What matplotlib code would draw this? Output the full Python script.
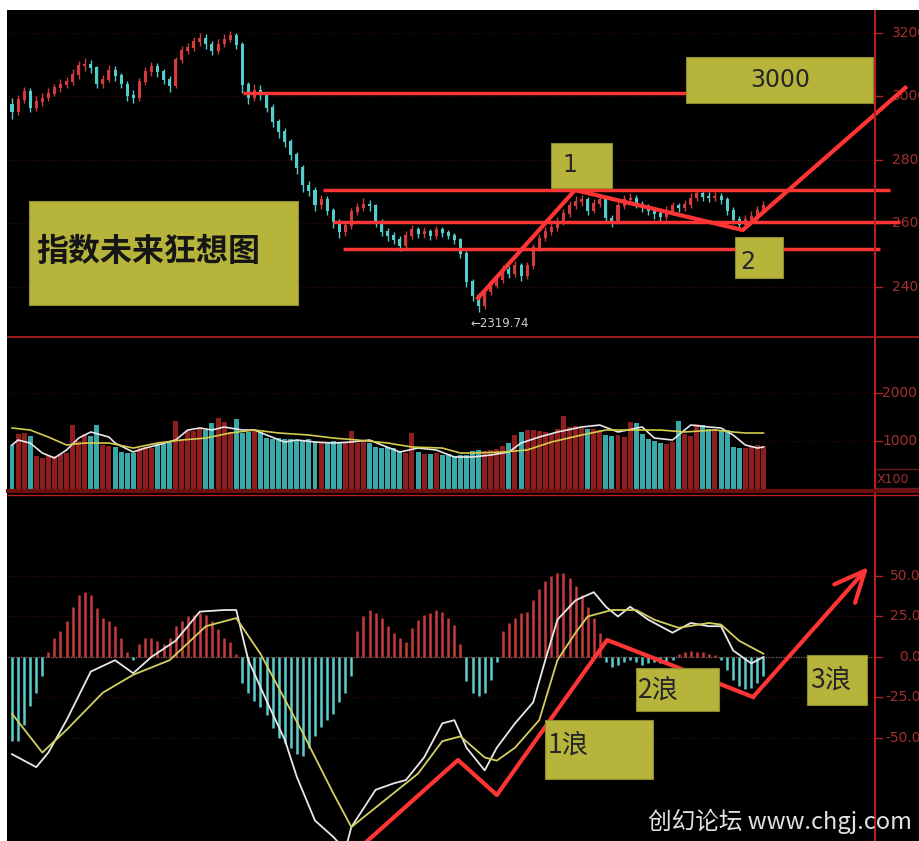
import matplotlib
matplotlib.use('Agg')
import matplotlib.pyplot as plt
import matplotlib.transforms as mtransforms
from matplotlib.patches import Rectangle
from matplotlib.lines import Line2D
import numpy as np

# ---- daily candles ----
opens = [2975, 2951, 2989, 3014, 2964, 2983, 2995, 3008, 3027, 3036,
         3046, 3068, 3096, 3102, 3090, 3039, 3052, 3083, 3065, 3039,
         3002, 2995, 3046, 3077, 3093, 3077, 3052, 3033, 3115, 3146,
         3153, 3172, 3184, 3165, 3146, 3165, 3178, 3191, 3162, 3036,
         2995, 3020, 3005, 2964, 2920, 2888, 2857, 2816, 2775, 2721,
         2705, 2658, 2674, 2642, 2605, 2573, 2592, 2636, 2649, 2661,
         2655, 2605, 2573, 2561, 2548, 2529, 2561, 2580, 2567, 2573,
         2561, 2580, 2570, 2561, 2548, 2504, 2416, 2372, 2340, 2384,
         2403, 2422, 2454, 2441, 2466, 2435, 2466, 2523, 2554, 2573,
         2586, 2605, 2630, 2655, 2668, 2674, 2642, 2664, 2674, 2617,
         2605, 2655, 2674, 2680, 2661, 2649, 2642, 2630, 2623, 2642,
         2655, 2649, 2661, 2680, 2693, 2686, 2680, 2686, 2674, 2642,
         2611, 2598, 2611, 2623, 2642]
closes = [2951, 2989, 3014, 2964, 2983, 2995, 3008, 3027, 3036, 3046,
          3068, 3096, 3102, 3090, 3039, 3052, 3083, 3065, 3039, 3002,
          2995, 3046, 3077, 3093, 3077, 3052, 3033, 3115, 3146, 3153,
          3172, 3184, 3165, 3146, 3165, 3178, 3191, 3162, 3036, 2995,
          3020, 3005, 2964, 2920, 2888, 2857, 2816, 2775, 2721, 2705,
          2658, 2674, 2642, 2605, 2573, 2592, 2636, 2649, 2661, 2655,
          2605, 2573, 2561, 2548, 2529, 2561, 2580, 2567, 2573, 2561,
          2580, 2570, 2561, 2548, 2504, 2416, 2372, 2340, 2384, 2403,
          2422, 2454, 2441, 2466, 2435, 2466, 2523, 2554, 2573, 2586,
          2605, 2630, 2655, 2668, 2674, 2642, 2664, 2674, 2617, 2605,
          2655, 2674, 2680, 2661, 2649, 2642, 2630, 2623, 2642, 2655,
          2649, 2661, 2680, 2693, 2686, 2680, 2686, 2674, 2642, 2611,
          2598, 2611, 2623, 2642, 2655]
highs = [2995, 3005, 3030, 3025, 3000, 3010, 3025, 3040, 3055, 3062,
         3085, 3110, 3120, 3115, 3095, 3068, 3098, 3095, 3075, 3050,
         3020, 3058, 3092, 3108, 3105, 3085, 3065, 3125, 3160, 3168,
         3188, 3200, 3195, 3175, 3180, 3195, 3205, 3200, 3170, 3045,
         3040, 3035, 3012, 2975, 2930, 2900, 2865, 2825, 2785, 2735,
         2715, 2690, 2685, 2650, 2615, 2605, 2650, 2665, 2680, 2675,
         2662, 2615, 2585, 2572, 2560, 2575, 2595, 2590, 2588, 2582,
         2592, 2590, 2580, 2570, 2555, 2512, 2425, 2380, 2395, 2418,
         2438, 2468, 2465, 2480, 2475, 2478, 2535, 2568, 2588, 2600,
         2620, 2645, 2670, 2685, 2690, 2682, 2678, 2690, 2682, 2628,
         2668, 2688, 2695, 2690, 2672, 2660, 2652, 2640, 2655, 2668,
         2665, 2675, 2695, 2708, 2702, 2698, 2700, 2695, 2682, 2652,
         2622, 2625, 2638, 2655, 2670]
lows = [2930, 2940, 2980, 2950, 2955, 2970, 2985, 3000, 3015, 3025,
        3035, 3055, 3080, 3075, 3025, 3028, 3045, 3050, 3025, 2985,
        2978, 2985, 3035, 3065, 3060, 3040, 3015, 3025, 3105, 3135,
        3142, 3160, 3150, 3130, 3135, 3155, 3170, 3148, 3010, 2975,
        2985, 2990, 2950, 2905, 2870, 2840, 2800, 2755, 2700, 2685,
        2640, 2645, 2625, 2585, 2555, 2560, 2582, 2625, 2640, 2640,
        2590, 2560, 2545, 2535, 2512, 2520, 2550, 2555, 2555, 2548,
        2552, 2558, 2550, 2535, 2490, 2400, 2355, 2319.74, 2330, 2375,
        2395, 2412, 2428, 2432, 2420, 2425, 2455, 2512, 2545, 2562,
        2575, 2595, 2620, 2645, 2655, 2628, 2632, 2652, 2600, 2590,
        2598, 2645, 2662, 2648, 2635, 2628, 2615, 2608, 2612, 2632,
        2636, 2640, 2650, 2670, 2672, 2668, 2670, 2660, 2628, 2598,
        2582, 2588, 2600, 2612, 2632]

# ---- volume (x100) ----
volumes = [920, 1150, 1170, 1100, 680, 650, 700, 690, 720, 760,
           1330, 1000, 1150, 1100, 1340, 920, 900, 880, 780, 750,
           760, 860, 880, 850, 930, 940, 1000, 1420, 1050, 1230,
           1200, 1250, 1220, 1380, 1480, 1400, 1180, 1460, 1170, 1190,
           1210, 1180, 1060, 1050, 1070, 1040, 1050, 1030, 1020, 1040,
           980, 970, 960, 990, 970, 980, 1210, 960, 980, 950,
           880, 860, 870, 850, 770, 760, 1170, 780, 740, 720,
           760, 700, 730, 680, 700, 710, 790, 820, 800, 810,
           830, 900, 950, 1120, 1180, 1220, 1230, 1210, 1180, 1150,
           1250, 1520, 1300, 1310, 1280, 1260, 1240, 1220, 1120, 1100,
           1130, 1080, 1400, 1380, 1150, 1050, 1000, 960, 940, 980,
           1420, 1150, 1100, 1350, 1330, 1250, 1240, 1230, 1220, 880,
           860, 850, 900, 920, 890]
vol_ma_white_x = [0, 1, 3, 5, 7, 9, 11, 13, 16, 17, 20, 22, 24, 27, 29, 31, 33, 35,
                  38, 40, 42, 45, 47, 50, 53, 56, 59, 61, 64, 67, 70, 73, 76, 79,
                  82, 84, 87, 90, 94, 97, 100, 104, 106, 109, 111, 112, 115, 117,
                  119, 121, 123, 124]
vol_ma_white = [917, 1021, 958, 750, 646, 812, 1062, 1188, 1083, 958, 771, 854, 917,
                1021, 1229, 1271, 1229, 1292, 1229, 1229, 1125, 979, 1021, 979, 958,
                979, 1021, 917, 771, 854, 813, 667, 667, 708, 771, 958, 1083, 1188,
                1292, 1333, 1188, 1292, 1062, 1021, 1229, 1333, 1292, 1271, 1125,
                917, 854, 875]
vol_ma_yellow_x = [0, 3, 6, 9, 12, 16, 20, 24, 28, 32, 36, 40, 44, 49, 53, 57, 62, 66,
                   71, 74, 76, 81, 85, 89, 94, 98, 103, 107, 111, 116, 119, 121, 124]
vol_ma_yellow = [1271, 1229, 1083, 917, 958, 958, 854, 958, 1021, 1062, 1167, 1229,
                 1167, 1125, 1062, 1021, 958, 875, 854, 750, 750, 771, 813, 979, 1125,
                 1229, 1229, 1229, 1188, 1229, 1188, 1167, 1167]

# ---- MACD ----
macd_hist = [-52, -52, -42, -30, -22, -12, 3, 12, 16, 22,
             31, 38, 40, 38, 30, 24, 22, 19, 12, 3,
             -2, 8, 12, 12, 10, 8, 12, 19, 22, 25,
             26, 27, 26, 22, 17, 12, 9, 2, -16, -22,
             -27, -31, -36, -44, -50, -53, -56, -60, -61, -56,
             -49, -43, -39, -35, -28, -22, -12, 16, 25, 29,
             27, 24, 19, 15, 12, 9, 18, 23, 26, 27,
             29, 28, 24, 20, 8, -15, -22, -24, -22, -14,
             -3, 16, 21, 24, 27, 28, 35, 42, 47, 50,
             52, 52, 49, 44, 38, 31, 24, 15, -3, -6,
             -5, -3, -2, -3, -5, -4, -3, -4, -3, -2,
             2, 3, 4, 3, 3, 2, 1, -2, -8, -14,
             -18, -20, -19, -16, -12]
dif_x = [0, 4, 6, 9, 13, 17, 20, 23, 27, 31, 35, 37, 39, 42, 45, 47, 50, 53, 55, 56,
         60, 63, 65, 68, 71, 73, 75, 78, 80, 83, 86, 88, 90, 93, 96, 98, 100, 102,
         105, 109, 112, 115, 117, 119, 122, 124]
dif = [-60, -68, -59, -39, -9, -2, -10, 0, 10, 28, 29, 29, -2, -27, -51, -74, -101,
       -111, -119, -105, -82, -78, -76, -62, -41, -39, -56, -70, -56, -41, -28, -2,
       23, 35, 40, 31, 25, 31, 23, 15, 21, 19, 19, 4, -4, 0]
dea_x = [0, 5, 9, 15, 20, 26, 32, 37, 41, 48, 53, 56, 61, 67, 71, 74, 78, 80, 83, 87,
         90, 93, 95, 99, 103, 106, 110, 115, 117, 120, 124]
dea = [-35, -59, -45, -22, -11, -2, 19, 24, 2, -47, -84, -105, -90, -72, -52, -49,
       -62, -64, -56, -39, -2, 15, 25, 29, 29, 23, 18, 21, 20, 10, 2]

price_ticks = [3200, 3000, 2800, 2600, 2400]
vol_ticks = [2000, 1000]
macd_ticks = [50, 25, 0, -25, -50]

# hand drawn analysis lines
level_prices = [3010, 2705, 2605, 2520]
level_start = [38.1, 51.3, 53.0, 54.6]
level_end = [125.0, 144.9, 146.5, 143.2]
wave_x = [76.9, 92.9, 120.6, 147.4]
wave_p = [2365, 2705, 2579, 3027]
macd_wave_x = [56.6, 73.6, 80.0, 98.2, 122.3, 141.3]
macd_wave_v = [-120.4, -63.6, -85.2, 10.5, -24.7, 55.6]

# ---- figure ----
W, H = 919, 841
fig = plt.figure(figsize=(W / 100, H / 100), dpi=100)
fig.patch.set_facecolor('white')
fig.add_artist(Rectangle((7 / W, 0), 1, 1 - 10 / H, transform=fig.transFigure,
                         facecolor='black', edgecolor='none', zorder=-10))


def fx(px):
    return px / W


def fy(py):
    return 1 - py / H


xlim = ((8 - 12) / 6.06, (875 - 12) / 6.06)
ax_p = fig.add_axes([fx(8), fy(338), fx(875) - fx(8), fy(11) - fy(338)])
ax_v = fig.add_axes([fx(8), fy(492), fx(875) - fx(8), fy(338) - fy(492)])
ax_m = fig.add_axes([fx(8), fy(841), fx(875) - fx(8), fy(495) - fy(841)])
for ax in (ax_p, ax_v, ax_m):
    ax.set_facecolor('black')
    ax.set_xlim(*xlim)
    ax.set_xticks([])
    ax.set_yticks([])
    for s in ax.spines.values():
        s.set_visible(False)
ax_p.set_ylim(2239, 3269)
ax_v.set_ylim(-62, 3146)
ax_m.set_ylim(-113.6, 100)

grid_col = '#3e0d0d'
axis_red = '#b02222'
label_red = '#a33030'
for ax, ticks in ((ax_p, price_ticks), (ax_v, vol_ticks), (ax_m, [50, 25, -25, -50])):
    for t in ticks:
        ax.axhline(t, color=grid_col, lw=0.8, ls=(0, (1, 2)), zorder=1)
ax_m.axhline(0, color='#8a6666', lw=0.9, ls=(0, (1, 1)), zorder=1)

# candles
idx = np.arange(len(closes))
o = np.array(opens)
c = np.array(closes)
up = c >= o
cndl_cols = np.where(up, '#d23c3c', '#55cccc')
ax_p.vlines(idx, lows, highs, colors=cndl_cols, lw=1.0, zorder=2)
ax_p.bar(idx, np.abs(c - o) + 3, bottom=np.minimum(o, c) - 1.5, width=0.5,
         color=cndl_cols, zorder=2)
ax_p.annotate('\u2190' + '2319.74', xy=(77, 2319.74), xytext=(-6, -3),
              textcoords='offset points', ha='left', va='top', color='#cfcfcf',
              fontsize=8.5, zorder=3)

# volume
vol_cols = np.where(up, '#8e1e1e', '#3aa8a8')
ax_v.bar(idx, volumes, width=0.82, color=vol_cols, zorder=2)
ax_v.plot(vol_ma_white_x, vol_ma_white, color='#e6e6e6', lw=1.2, zorder=3)
ax_v.plot(vol_ma_yellow_x, vol_ma_yellow, color='#d2cc4a', lw=1.2, zorder=3)

# macd
h = np.array(macd_hist)
ax_m.vlines(idx, 0, h, colors=np.where(h >= 0, '#c43c3c', '#5ccccc'), lw=1.8, zorder=2)
ax_m.plot(dif_x, dif, color='#e8e8e8', lw=1.3, zorder=3)
ax_m.plot(dea_x, dea, color='#d4d060', lw=1.3, zorder=3)

# analysis lines
red = '#ff3535'
for p, a, b in zip(level_prices, level_start, level_end):
    ax_p.plot([a, b], [p, p], color=red, lw=2.5, clip_on=False, zorder=4,
              solid_capstyle='butt')
ax_p.plot(wave_x, wave_p, color=red, lw=3, clip_on=False, zorder=4)
ax_m.plot(macd_wave_x[:-1], macd_wave_v[:-1], color=red, lw=3, zorder=4)
ax_m.annotate('', xy=(macd_wave_x[-1], macd_wave_v[-1]),
              xytext=(macd_wave_x[-2], macd_wave_v[-2]),
              arrowprops=dict(arrowstyle='->,head_length=2.2,head_width=1.0',
                              color=red, lw=3, shrinkA=0, shrinkB=0),
              annotation_clip=False, zorder=4)

# olive label boxes
olive = '#b7b43c'
cjk = ['Noto Sans CJK SC', 'DejaVu Sans']


def box(ax, x0, x1, y0, y1):
    ax.add_patch(Rectangle((x0, y0), x1 - x0, y1 - y0, facecolor=olive,
                           edgecolor='#8d8b2e', lw=0.8, zorder=6, clip_on=False))


box(ax_p, 2.8, 47.2, 2343, 2671)
ax_p.text(4.0, 2510, '指数未来狂想图', family=cjk, fontsize=23, fontweight='bold',
          color='#151515', va='center', ha='left', zorder=7)
box(ax_p, 111.2, 142.1, 2980, 3124)
ax_p.text(126.7, 3052, '3000', fontsize=17, color='#262626', va='center',
          ha='center', zorder=7)
box(ax_p, 88.9, 99.0, 2712, 2853)
ax_p.text(90.8, 2784, '1', fontsize=17, color='#262626', va='center', ha='left', zorder=7)
box(ax_p, 119.3, 127.2, 2428, 2557)
ax_p.text(120.1, 2478, '2', fontsize=17, color='#262626', va='center', ha='left', zorder=7)

box(ax_m, 88.0, 105.8, -75.3, -38.9)
ax_m.text(88.4, -54.5, '1浪', family=cjk, fontsize=19, color='#262626',
          va='center', ha='left', zorder=7)
box(ax_m, 103.0, 116.7, -33.3, -6.8)
ax_m.text(103.3, -20.4, '2浪', family=cjk, fontsize=19, color='#262626',
          va='center', ha='left', zorder=7)
box(ax_m, 131.2, 141.1, -29.6, 1.2)
ax_m.text(131.7, -14.2, '3浪', family=cjk, fontsize=19, color='#262626',
          va='center', ha='left', zorder=7)

# right axis, separators
fig.add_artist(Line2D([fx(875), fx(875)], [fy(11), 0], color=axis_red, lw=1.5))
fig.add_artist(Line2D([fx(8), 1], [fy(337), fy(337)], color='#a81e1e', lw=1.3))
fig.add_artist(Line2D([fx(8), 1], [fy(491), fy(491)], color='#6e1010', lw=3))
fig.add_artist(Line2D([fx(8), 1], [fy(495), fy(495)], color='#b82020', lw=1))

for ax, ticks, xpos, ha in ((ax_p, price_ticks, 892, 'left'),
                            (ax_v, vol_ticks, 882, 'left'),
                            (ax_m, macd_ticks, 921, 'right')):
    tr = mtransforms.blended_transform_factory(fig.transFigure, ax.transData)
    for t in ticks:
        lab = '%.1f' % t if ax is ax_m else str(t)
        ax.text(fx(xpos), t, lab, transform=tr, color=label_red, fontsize=10,
                ha=ha, va='center', clip_on=False)
        ax.plot([fx(875), fx(882)], [t, t], transform=tr, color=axis_red, lw=1,
                clip_on=False)

fig.add_artist(Rectangle((fx(875), fy(488)), fx(919) - fx(875), fy(469) - fy(488),
                         transform=fig.transFigure, facecolor='none',
                         edgecolor='#6a1c1c', lw=1))
fig.text(fx(877), fy(479), 'X100', color=label_red, fontsize=9, va='center', ha='left')

fig.text(fx(648), fy(821), '创幻论坛 www.chgj.com', family=cjk, fontsize=17,
         color='#e2e2e2', va='center', ha='left')

fig.savefig('out.png', dpi=100, facecolor=fig.get_facecolor())
